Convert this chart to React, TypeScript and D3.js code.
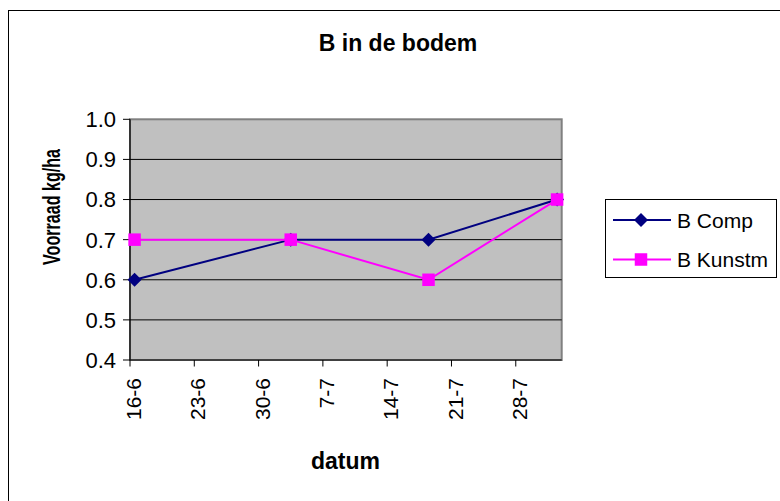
import React from "react";
import * as d3 from "d3";

const dates = ["2005-06-16", "2005-07-03", "2005-07-18", "2005-08-01"];
const bComp = [0.6, 0.7, 0.7, 0.8];
const bKunstm = [0.7, 0.7, 0.6, 0.8];
const xTickDates = ["2005-06-16", "2005-06-23", "2005-06-30", "2005-07-07", "2005-07-14", "2005-07-21", "2005-07-28"];
const yTicks = [0.4, 0.5, 0.6, 0.7, 0.8, 0.9, 1.0];
const xDomain = ["2005-06-16", "2005-08-02"];
const seriesNames = ["B Comp", "B Kunstm"];

const parse = d3.timeParse("%Y-%m-%d");
const fmt = d3.timeFormat("%-d-%-m");
const FONT = "'Liberation Sans', Arial, sans-serif";

export default function App() {
  const left = 130, right = 561.7, top = 119.3, bottom = 360;
  const x = d3.scaleTime().domain(xDomain.map((d) => parse(d)!)).range([left, right]);
  const y = d3.scaleLinear().domain([0.4, 1.0]).range([bottom, top]);
  const px = (s: string) => x(d3.timeHour.offset(parse(s)!, 12));

  const line = d3
    .line<[number, number]>()
    .x((d) => d[0])
    .y((d) => d[1]);

  const compPts: [number, number][] = dates.map((d, i) => [px(d), y(bComp[i])]);
  const kunPts: [number, number][] = dates.map((d, i) => [px(d), y(bKunstm[i])]);

  const diamond = (cx: number, cy: number, r = 7) =>
    `M${cx},${cy - r}L${cx + r},${cy}L${cx},${cy + r}L${cx - r},${cy}Z`;
  const sq = 12.5;

  return (
    <div style={{ position: "absolute", left: 0, top: 0 }}>
      <svg width={780} height={501} style={{ display: "block", fontFamily: FONT }}>
        <rect x={0} y={0} width={780} height={501} fill="#fff" />
        <rect x={8.5} y={10.5} width={900} height={700} fill="none" stroke="#000" strokeWidth={1} />

        <text x={398} y={51} textAnchor="middle" fontWeight="bold" fontSize={23}>
          B in de bodem
        </text>

        <rect x={left} y={top} width={right - left} height={bottom - top} fill="#C0C0C0" stroke="#808080" strokeWidth={2} />
        {yTicks.slice(1, -1).map((t) => (
          <line key={t} x1={left} x2={right} y1={y(t)} y2={y(t)} stroke="#000" strokeWidth={1} />
        ))}
        <line x1={left} x2={left} y1={top} y2={bottom} stroke="#000" strokeWidth={1.2} />
        <line x1={left} x2={right} y1={bottom} y2={bottom} stroke="#000" strokeWidth={1.2} />

        {yTicks.map((t) => (
          <g key={t}>
            <line x1={left - 7} x2={left} y1={y(t)} y2={y(t)} stroke="#000" />
            <text x={116} y={y(t)} dy="0.36em" textAnchor="end" fontSize={22}>
              {t.toFixed(1)}
            </text>
          </g>
        ))}

        {xTickDates.map((s) => {
          const tx = x(parse(s)!);
          return (
            <g key={s}>
              <line x1={tx} x2={tx} y1={bottom} y2={bottom + 6.5} stroke="#000" />
              <text
                transform={`translate(${tx + 3.5},378) rotate(-90)`}
                dy="0.36em"
                textAnchor="end"
                fontSize={21}
              >
                {fmt(parse(s)!)}
              </text>
            </g>
          );
        })}

        <text
          transform="translate(60,207) rotate(-90)"
          textAnchor="middle"
          fontWeight="bold"
          fontSize={24}
          textLength={116}
          lengthAdjust="spacingAndGlyphs"
        >
          Voorraad kg/ha
        </text>
        <text x={345.5} y={469} textAnchor="middle" fontWeight="bold" fontSize={23}>
          datum
        </text>

        <path d={line(compPts)!} fill="none" stroke="#000080" strokeWidth={2} />
        {compPts.map((p, i) => (
          <path key={i} d={diamond(p[0], p[1])} fill="#000080" />
        ))}
        <path d={line(kunPts)!} fill="none" stroke="#FF00FF" strokeWidth={2} />
        {kunPts.map((p, i) => (
          <rect key={i} x={p[0] - sq / 2} y={p[1] - sq / 2} width={sq} height={sq} fill="#FF00FF" />
        ))}

        <rect x={605.5} y={199.5} width={171} height={78} fill="#fff" stroke="#000" strokeWidth={1} />
        <line x1={613} x2={671} y1={220} y2={220} stroke="#000080" strokeWidth={2} />
        <path d={diamond(641, 220)} fill="#000080" />
        <text x={677} y={220} dy="0.36em" fontSize={21}>
          {seriesNames[0]}
        </text>
        <line x1={613} x2={671} y1={259.5} y2={259.5} stroke="#FF00FF" strokeWidth={2} />
        <rect x={641 - sq / 2} y={259.5 - sq / 2} width={sq} height={sq} fill="#FF00FF" />
        <text x={677} y={259.5} dy="0.36em" fontSize={21}>
          {seriesNames[1]}
        </text>
      </svg>
    </div>
  );
}
